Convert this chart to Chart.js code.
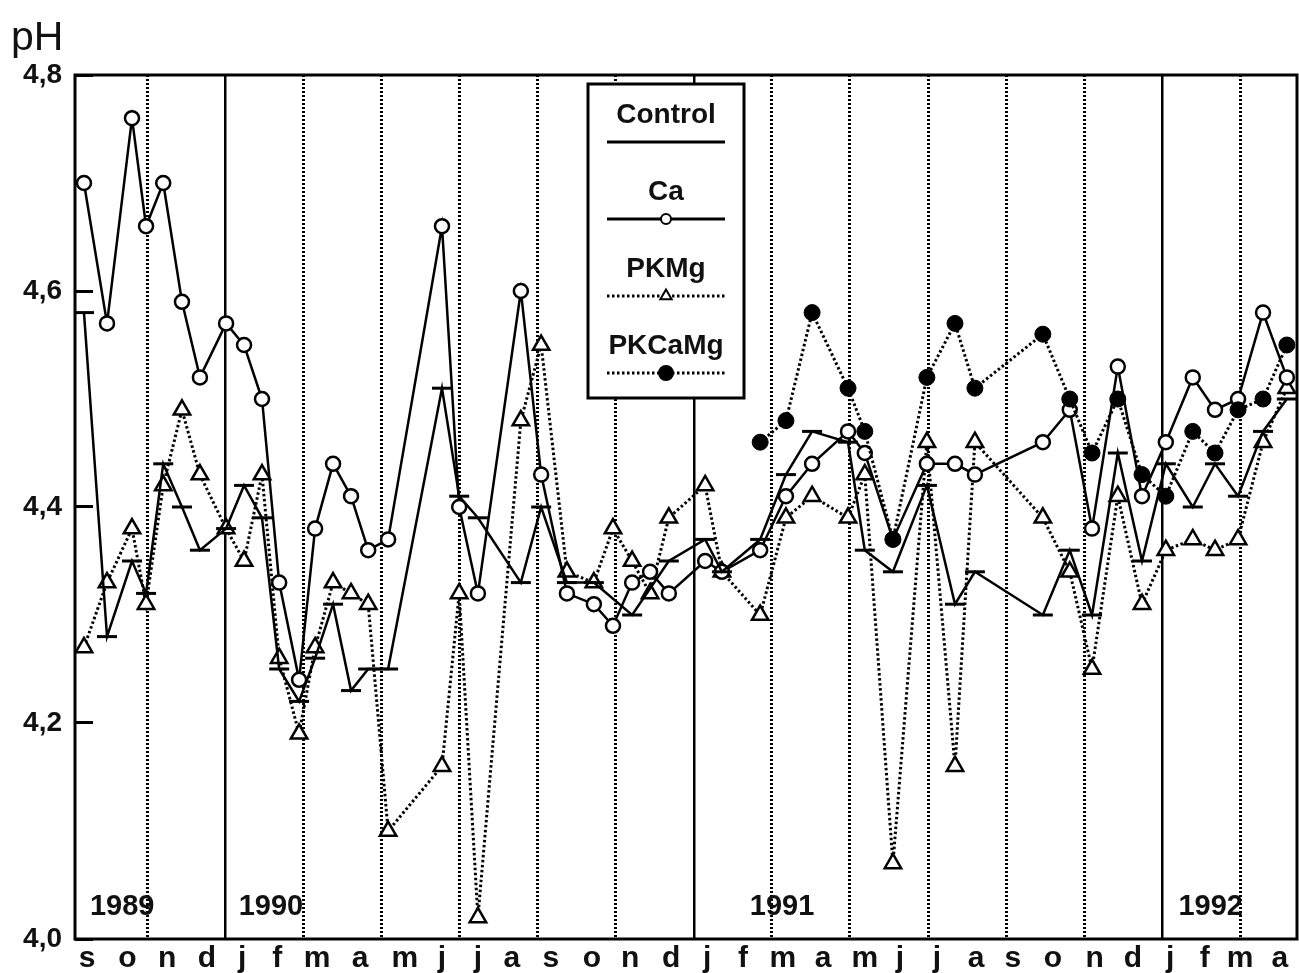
<!DOCTYPE html>
<html>
<head>
<meta charset="utf-8">
<title>pH</title>
<script src="https://cdn.jsdelivr.net/npm/chart.js@4/dist/chart.umd.min.js"></script>
<style>
    html, body { margin: 0; padding: 0; background: #fff; }
    #wrap { width: 1299px; height: 973px; }
</style>
</head>
<body>
<div id="wrap"><canvas id="chart" width="1299" height="973"></canvas></div>
<script>
// sampling dates, in months counted from 1 Sep 1989
const sampleMonths = [0.38, 0.97, 1.61, 1.97, 2.41, 2.89, 3.35, 4.02, 4.48, 4.94,
    5.38, 5.89, 6.30, 6.76, 7.22, 7.66, 8.17, 9.55, 9.99, 10.47,
    11.57, 12.09, 12.75, 13.44, 13.93, 14.42, 14.88, 15.36, 16.29, 16.72,
    17.70, 18.36, 19.03, 19.95, 20.38, 21.10, 21.97, 22.69, 23.20, 24.94,
    25.63, 26.20, 26.86, 27.48, 28.09, 28.78, 29.35, 29.94, 30.58, 31.19];

const control = [4.58, 4.28, 4.35, 4.32, 4.44, 4.40, 4.36, 4.38, 4.42, 4.39,
    4.25, 4.22, 4.26, 4.31, 4.23, 4.25, 4.25, 4.51, 4.41, 4.39,
    4.33, 4.40, 4.33, 4.33, null, 4.30, null, 4.35, 4.37, 4.34,
    4.37, 4.43, 4.47, 4.46, 4.36, 4.34, 4.42, 4.31, 4.34, 4.30,
    4.36, 4.30, 4.45, 4.35, 4.44, 4.40, 4.44, 4.41, 4.47, 4.50];

const ca = [4.70, 4.57, 4.76, 4.66, 4.70, 4.59, 4.52, 4.57, 4.55, 4.50,
    4.33, 4.24, 4.38, 4.44, 4.41, 4.36, 4.37, 4.66, 4.40, 4.32,
    4.60, 4.43, 4.32, 4.31, 4.29, 4.33, 4.34, 4.32, 4.35, 4.34,
    4.36, 4.41, 4.44, 4.47, 4.45, 4.37, 4.44, 4.44, 4.43, 4.46,
    4.49, 4.38, 4.53, 4.41, 4.46, 4.52, 4.49, 4.50, 4.58, 4.52];

const pkmg = [4.27, 4.33, 4.38, 4.31, 4.42, 4.49, 4.43, 4.38, 4.35, 4.43,
    4.26, 4.19, 4.27, 4.33, 4.32, 4.31, 4.10, 4.16, 4.32, 4.02,
    4.48, 4.55, 4.34, 4.33, 4.38, 4.35, 4.32, 4.39, 4.42, 4.34,
    4.30, 4.39, 4.41, 4.39, 4.43, 4.07, 4.46, 4.16, 4.46, 4.39,
    4.34, 4.25, 4.41, 4.31, 4.36, 4.37, 4.36, 4.37, 4.46, 4.51];

const pkcamg = [null, null, null, null, null, null, null, null, null, null,
    null, null, null, null, null, null, null, null, null, null,
    null, null, null, null, null, null, null, null, null, null,
    4.46, 4.48, 4.58, 4.51, 4.47, 4.37, 4.52, 4.57, 4.51, 4.56,
    4.50, 4.45, 4.50, 4.43, 4.41, 4.47, 4.45, 4.49, 4.50, 4.55];

const monthLabels = ['s', 'o', 'n', 'd', 'j', 'f', 'm', 'a', 'm', 'j', 'j', 'a', 's', 'o', 'n', 'd',
    'j', 'f', 'm', 'a', 'm', 'j', 'j', 'a', 's', 'o', 'n', 'd', 'j', 'f', 'm', 'a'];
const monthTickPos = [0.46, 1.49, 2.51, 3.53, 4.43, 5.33, 6.35, 7.45, 8.60, 9.55, 10.47, 11.34,
    12.34, 13.39, 14.37, 15.42, 16.34, 17.26, 18.28, 19.31, 20.38, 21.28, 22.23, 23.23,
    24.17, 25.20, 26.27, 27.25, 28.20, 29.09, 29.99, 31.01];

const gridMonths = [2, 4, 6, 8, 10, 12, 14, 16, 18, 20, 22, 24, 26, 28, 30];
const yearStarts = [4, 16, 28];
const yearLabels = ['1989', '1990', '1991', '1992'];
const yearLabelPos = [1.36, 5.17, 18.26, 29.24];
const yTicks = [4.0, 4.2, 4.4, 4.6, 4.8];

const FONT = '"Liberation Sans", Arial, Helvetica, sans-serif';
const INK = '#111';

function series(values) {
    return sampleMonths.map((m, i) => ({ x: m, y: values[i] }));
}

function noPadding(s) {
    s.paddingLeft = 0;
    s.paddingRight = 0;
    s.paddingTop = 0;
    s.paddingBottom = 0;
}

// start: plugins
const frame = {
    id: 'frame',
    beforeDatasetsDraw(chart) {
        const a = chart.chartArea;
        const ctx = chart.ctx;
        ctx.save();
        ctx.strokeStyle = '#000';
        ctx.lineWidth = 3;
        ctx.strokeRect(a.left, a.top, a.right - a.left, a.bottom - a.top);
        ctx.fillStyle = INK;
        ctx.font = 'bold 29px ' + FONT;
        ctx.textAlign = 'center';
        ctx.textBaseline = 'middle';
        const x = chart.scales.x, y = chart.scales.y;
        yearLabels.forEach((t, i) => {
            ctx.fillText(t, x.getPixelForValue(yearLabelPos[i]), y.getPixelForValue(4.03));
        });
        ctx.font = '41px ' + FONT;
        ctx.textAlign = 'left';
        ctx.textBaseline = 'alphabetic';
        ctx.fillText('pH', 11, 50);
        ctx.restore();
    }
};

const legendRadius = [7, 5, 6.5, 7];
const legendBox = {
    id: 'legendBox',
    afterDatasetsDraw(chart) {
        const ctx = chart.ctx;
        const left = 588, top = 84, w = 156, h = 314;
        const cx = left + w / 2;
        ctx.save();
        ctx.fillStyle = '#fff';
        ctx.fillRect(left, top, w, h);
        ctx.lineWidth = 3;
        ctx.strokeStyle = '#000';
        ctx.strokeRect(left, top, w, h);
        chart.data.datasets.forEach((ds, i) => {
            const ty = top + 31 + i * 77;
            const ly = ty + 27;
            ctx.fillStyle = INK;
            ctx.font = 'bold 28px ' + FONT;
            ctx.textAlign = 'center';
            ctx.textBaseline = 'middle';
            ctx.fillText(ds.label, cx, ty);
            ctx.beginPath();
            ctx.setLineDash(ds.borderDash || []);
            ctx.lineWidth = 3;
            ctx.strokeStyle = '#000';
            ctx.moveTo(left + 19, ly);
            ctx.lineTo(left + w - 19, ly);
            ctx.stroke();
            ctx.setLineDash([]);
            ctx.fillStyle = ds.pointBackgroundColor;
            ctx.lineWidth = 2;
            if (Chart.helpers && Chart.helpers.drawPoint) {
                Chart.helpers.drawPoint(ctx, {
                    pointStyle: ds.pointStyle, radius: legendRadius[i], borderWidth: 2, rotation: 0
                }, cx, ly);
            }
        });
        ctx.restore();
    }
};
// end: plugins

new Chart(document.getElementById('chart'), {
    type: 'line',
    data: {
        datasets: [
            {
                label: 'Control',
                data: series(control),
                order: 1,
                borderColor: '#000',
                borderWidth: 2.5,
                pointStyle: 'line',
                pointRadius: 10,
                pointBorderWidth: 3,
                pointBorderColor: '#000',
                pointBackgroundColor: '#000'
            },
            {
                label: 'Ca',
                data: series(ca),
                order: 2,
                borderColor: '#000',
                borderWidth: 2.5,
                pointStyle: 'circle',
                pointRadius: 7,
                pointBorderWidth: 2.5,
                pointBorderColor: '#000',
                pointBackgroundColor: '#fff'
            },
            {
                label: 'PKMg',
                data: series(pkmg),
                order: 3,
                borderColor: '#000',
                borderWidth: 3,
                borderDash: [2.5, 2.5],
                pointStyle: 'triangle',
                pointRadius: 9.5,
                pointBorderWidth: 2.5,
                pointBorderColor: '#000',
                pointBackgroundColor: '#fff'
            },
            {
                label: 'PKCaMg',
                data: series(pkcamg),
                order: 0,
                borderColor: '#000',
                borderWidth: 3,
                borderDash: [2.5, 2.5],
                pointStyle: 'circle',
                pointRadius: 8,
                pointBorderWidth: 1,
                pointBorderColor: '#000',
                pointBackgroundColor: '#000'
            }
        ]
    },
    options: {
        responsive: false,
        animation: false,
        devicePixelRatio: 1,
        spanGaps: true,
        layout: { autoPadding: false, padding: { top: 75, right: 2, left: 0, bottom: 0 } },
        plugins: {
            legend: { display: false },
            tooltip: { enabled: false }
        },
        scales: {
            x: {
                type: 'linear',
                position: 'bottom',
                min: 0.15,
                max: 31.45,
                grid: { display: false, drawTicks: false },
                border: { display: false },
                afterBuildTicks: (s) => { s.ticks = monthTickPos.map(v => ({ value: v })); },
                afterFit: (s) => { s.height = 34; noPadding(s); },
                ticks: {
                    autoSkip: false,
                    maxRotation: 0,
                    padding: 2,
                    color: INK,
                    font: { family: FONT, size: 30, weight: 'bold' },
                    callback: (v, i) => monthLabels[i]
                }
            },
            xGrid: {
                type: 'linear',
                position: 'bottom',
                min: 0.15,
                max: 31.45,
                afterBuildTicks: (s) => { s.ticks = gridMonths.map(v => ({ value: v })); },
                afterFit: (s) => { s.height = 0; noPadding(s); },
                ticks: { display: false },
                grid: {
                    drawTicks: false,
                    color: '#000',
                    lineWidth: (c) => yearStarts.includes(c.tick && c.tick.value) ? 2.5 : 3
                },
                border: {
                    display: false,
                    dash: (c) => yearStarts.includes(c.tick && c.tick.value) ? [] : [2, 2]
                }
            },
            y: {
                type: 'linear',
                min: 4.0,
                max: 4.8,
                afterBuildTicks: (s) => { s.ticks = yTicks.map(v => ({ value: v })); },
                afterFit: (s) => { s.width = 75; noPadding(s); },
                grid: {
                    drawOnChartArea: false,
                    drawTicks: true,
                    tickLength: -18,
                    tickWidth: 3,
                    tickColor: '#000'
                },
                border: { display: false },
                ticks: {
                    padding: 31,
                    color: INK,
                    font: { family: FONT, size: 28, weight: 'bold' },
                    callback: (v) => v.toFixed(1).replace('.', ',')
                }
            }
        }
    },
    plugins: [frame, legendBox]
});
</script>
</body>
</html>
